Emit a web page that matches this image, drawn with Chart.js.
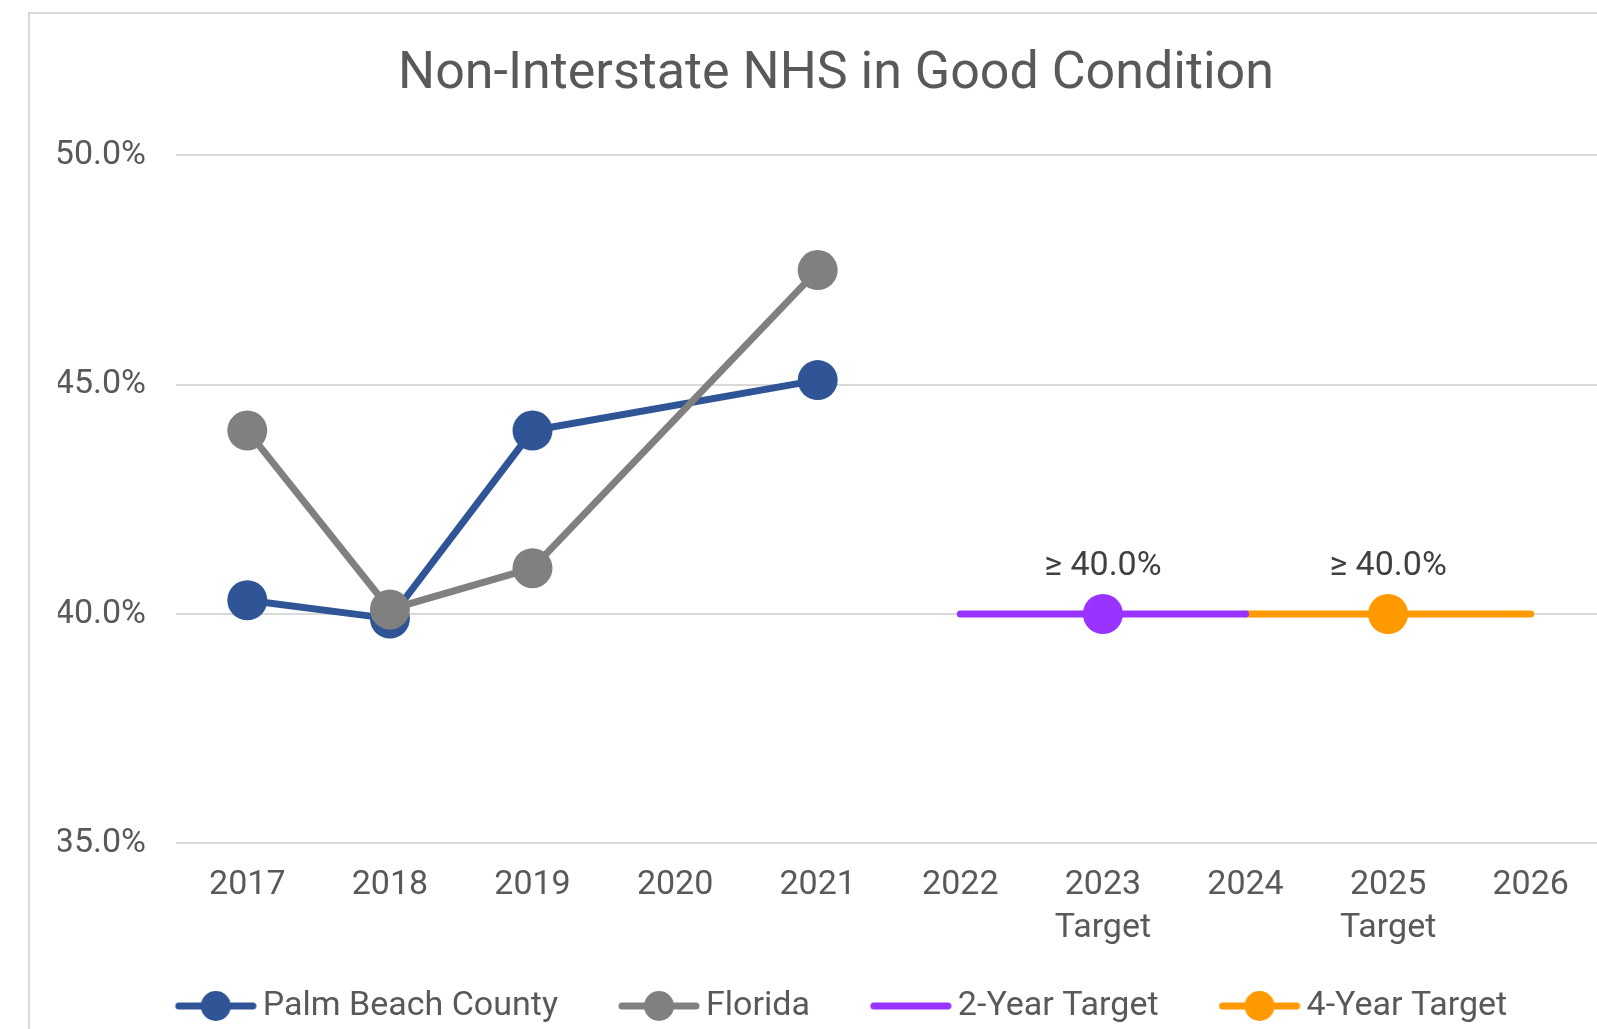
<!DOCTYPE html>
<html lang="en">
<head>
<meta charset="UTF-8">
<title>Non-Interstate NHS in Good Condition</title>
<script src="https://cdn.jsdelivr.net/npm/chart.js"></script>
<style>
  body { margin: 0; background: #fff; overflow: hidden; }
  .caixa {
    position: absolute; left: 28px; top: 12px;
    width: 1620px; height: 1019px;
    border-top: 2px solid #d9d9d9; border-left: 2px solid #d9d9d9;
  }
</style>
</head>
<body>
<div class="caixa"><canvas id="grafico"></canvas></div>

<script>
// dados
const anos = ['2017', '2018', '2019', '2020', '2021', '2022', ['2023', 'Target'], '2024', ['2025', 'Target'], '2026'];
const palmBeach = [40.3, 39.9, 44.0, null, 45.1, null, null, null, null, null];
const florida = [44.0, 40.1, 41.0, null, 47.5, null, null, null, null, null];
const meta2Anos = [null, null, null, null, null, 40.0, 40.0, 40.0, null, null];
const meta4Anos = [null, null, null, null, null, null, null, 40.0, 40.0, 40.0];
const rotuloMeta = '≥ 40.0%';
const ticksY = [35, 40, 45, 50];

const AZUL = '#2f5597', CINZA = '#808080', ROXO = '#9933ff', LARANJA = '#ff9900';
const FONTE = 'Roboto';

// icone da legenda: linha com bolinha, encostado na direita do canvas
function iconeLegenda(cor, comPonto) {
  const c = document.createElement('canvas');
  c.width = 135; c.height = 34;
  const ctx = c.getContext('2d');
  const x0 = 53;
  ctx.strokeStyle = cor;
  ctx.lineWidth = 7;
  ctx.lineCap = 'round';
  ctx.beginPath();
  ctx.moveTo(x0 + 4, 17); ctx.lineTo(x0 + 78, 17);
  ctx.stroke();
  if (comPonto) {
    ctx.fillStyle = cor;
    ctx.beginPath();
    ctx.arc(x0 + 41, 17, 15, 0, Math.PI * 2);
    ctx.fill();
  }
  return c;
}

const icones = [iconeLegenda(AZUL, true), iconeLegenda(CINZA, true), iconeLegenda(ROXO, false), iconeLegenda(LARANJA, true)];

// escreve o rotulo acima do ponto das metas
const rotulosMeta = {
  id: 'rotulosMeta',
  afterLayout(chart) {
    // pequeno ajuste horizontal de titulo e legenda
    chart.titleBlock.left += 6; chart.titleBlock.right += 6;
    chart.legend.left -= 10; chart.legend.right -= 10;
  },
  afterDatasetsDraw(chart) {
    const ctx = chart.ctx;
    chart.data.datasets.forEach((ds, i) => {
      if (ds.pontoMeta === undefined) return;
      const el = chart.getDatasetMeta(i).data[ds.pontoMeta];
      ctx.save();
      ctx.font = '34px ' + FONTE;
      ctx.fillStyle = '#404040';
      ctx.textAlign = 'center';
      ctx.textBaseline = 'middle';
      ctx.fillText(rotuloMeta, el.x, el.y - 48);
      ctx.restore();
    });
  }
};

function linha(label, dados, cor, ordem) {
  return {
    label: label,
    data: dados,
    borderColor: cor,
    backgroundColor: cor,
    borderWidth: 7,
    pointRadius: 20,
    pointHoverRadius: 20,
    pointBorderWidth: 0,
    spanGaps: true,
    order: ordem
  };
}

function meta(label, dados, cor, indicePonto) {
  return {
    label: label,
    data: dados,
    borderColor: cor,
    backgroundColor: cor,
    borderWidth: 7,
    borderCapStyle: 'round',
    pointRadius: ctx => ctx.dataIndex === indicePonto ? 20 : 0,
    pointHoverRadius: ctx => ctx.dataIndex === indicePonto ? 20 : 0,
    pointBorderWidth: 0,
    pontoMeta: indicePonto,
    order: 3
  };
}

new Chart(document.getElementById('grafico'), {
  type: 'line',
  data: {
    labels: anos,
    datasets: [
      linha('Palm Beach County', palmBeach, AZUL, 2),
      linha('Florida', florida, CINZA, 1),
      meta('2-Year Target', meta2Anos, ROXO, 6),
      meta('4-Year Target', meta4Anos, LARANJA, 8)
    ]
  },
  options: {
    responsive: true,
    maintainAspectRatio: false,
    animation: false,
    layout: { padding: { left: 28, right: 48, top: 0, bottom: 0 } },
    scales: {
      y: {
        min: 35,
        max: 50,
        afterBuildTicks: axis => { axis.ticks = ticksY.map(v => ({ value: v })); },
        afterFit: axis => { axis.width = 118; },
        ticks: {
          callback: v => v.toFixed(1) + '%',
          color: '#595959',
          font: { family: FONTE, size: 34 },
          padding: 30
        },
        grid: { color: '#d9d9d9', lineWidth: 2, drawTicks: false },
        border: { display: false }
      },
      x: {
        offset: true,
        ticks: {
          color: '#595959',
          font: { family: FONTE, size: 34, lineHeight: 1.26 },
          padding: 21,
          maxRotation: 0,
          autoSkip: false
        },
        grid: { display: false, drawTicks: false },
        border: { display: false }
      }
    },
    plugins: {
      title: {
        display: true,
        text: 'Non-Interstate NHS in Good Condition',
        color: '#595959',
        font: { family: FONTE, size: 52, weight: 'normal' },
        padding: { top: 30, bottom: 49 }
      },
      legend: {
        position: 'bottom',
        labels: {
          usePointStyle: true,
          pointStyleWidth: 113,
          padding: 18,
          color: '#595959',
          font: { family: FONTE, size: 34 },
          generateLabels: chart => {
            const itens = Chart.defaults.plugins.legend.labels.generateLabels(chart);
            itens.sort((a, b) => a.datasetIndex - b.datasetIndex);
            itens.forEach(it => { it.pointStyle = icones[it.datasetIndex]; });
            return itens;
          }
        }
      },
      tooltip: { enabled: false }
    }
  },
  plugins: [rotulosMeta]
});
</script>
</body>
</html>
